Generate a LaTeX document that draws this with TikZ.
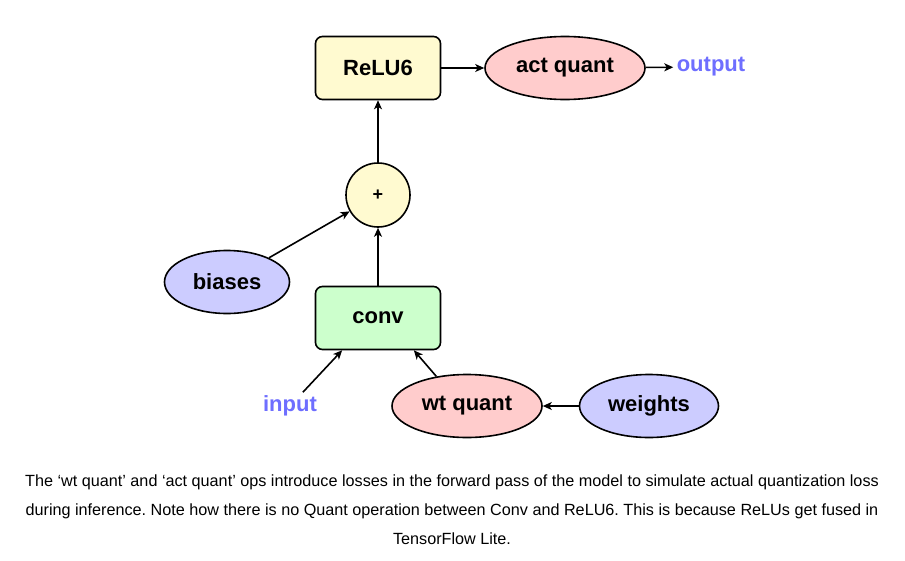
\documentclass[tikz,border=0pt]{standalone}
\usepackage{fontspec}
\setmainfont{Liberation Sans}
\usetikzlibrary{arrows.meta}
\usetikzlibrary{shapes.geometric}
\frenchspacing

\definecolor{opyellow}{HTML}{FFFAD0}
\definecolor{opgreen}{HTML}{CCFFCC}
\definecolor{qpink}{HTML}{FFCCCC}
\definecolor{tlilac}{HTML}{CCCCFF}
\definecolor{ioblue}{HTML}{6E6EFF}

\begin{document}
\begin{tikzpicture} [x=1pt, y=-1pt,
  opbox/.style={draw, line width=1.6pt, rounded corners=7pt, minimum width=125pt, minimum height=63pt, font=\bfseries\fontsize{22}{26}\selectfont},
  tensor/.style={ellipse, draw, line width=1.6pt, minimum height=63pt, inner sep=0pt, font=\bfseries\fontsize{22}{26}\selectfont},
  addop/.style={circle, draw, line width=1.6pt, fill=opyellow, minimum size=64pt, inner sep=0pt, font=\bfseries\fontsize{18}{20}\selectfont},
  iolabel/.style={text=ioblue, font=\bfseries\fontsize{22}{26}\selectfont},
  flow/.style={black, line width=1.6pt, -{Stealth[length=9pt, width=8pt, inset=2.5pt]}}]
\useasboundingbox (0,0) rectangle (905,560);

\node[opbox, fill=opyellow] (relu) at (378,68) {ReLU6};
\node[tensor, fill=qpink, minimum width=160pt] (actq) at (565,68) {act quant};
\node[iolabel] (output) at (711,67) {output};
\node[addop] (plus) at (378,195) {+};
\node[tensor, fill=tlilac, minimum width=125pt] (biases) at (227,282) {biases};
\node[opbox, fill=opgreen] (conv) at (378,318) {conv};
\node[iolabel] (input) at (290,406) {input};
\node[tensor, fill=qpink, minimum width=150pt] (wtq) at (467,406) {wt quant};
\node[tensor, fill=tlilac, minimum width=139pt] (weights) at (649,406) {weights};

\draw[flow] (relu) -- (actq);
\draw[flow] (actq) -- (output);
\draw[flow] (plus) -- (relu);
\draw[flow] (biases) -- (plus);
\draw[flow] (conv) -- (plus);
\draw[flow] (input) -- (conv.222);
\draw[flow] (wtq.136) -- (conv.318);
\draw[flow] (weights) -- (wtq);

\node[font=\fontsize{16.2}{29}\selectfont, align=center] (caption) at (452,510)
 {The ‘wt quant’ and ‘act quant’ ops introduce losses in the forward pass of the model to simulate actual quantization loss\\
  during inference. Note how there is no Quant operation between Conv and ReLU6. This is because ReLUs get fused in\\
  TensorFlow Lite.};
\end{tikzpicture}
\end{document}
